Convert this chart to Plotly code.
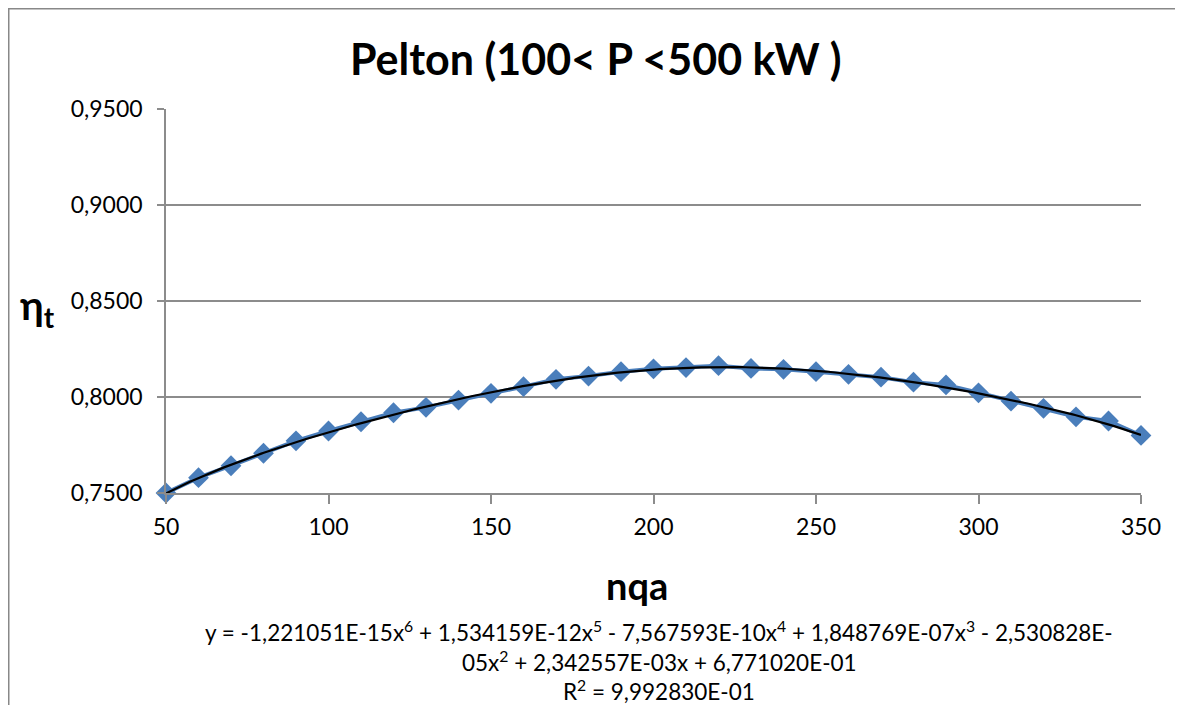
import numpy as np
import plotly.graph_objects as go

# ---- data ----
nqa = [50, 60, 70, 80, 90, 100, 110, 120, 130, 140, 150, 160, 170, 180, 190, 200,
       210, 220, 230, 240, 250, 260, 270, 280, 290, 300, 310, 320, 330, 340, 350]
eta = [0.7500, 0.7580, 0.7642, 0.7707, 0.7772, 0.7823, 0.7871, 0.7918, 0.7946, 0.7984,
       0.8019, 0.8054, 0.8092, 0.8109, 0.8132, 0.8147, 0.8153, 0.8163, 0.8149, 0.8144,
       0.8132, 0.8118, 0.8103, 0.8077, 0.8063, 0.8022, 0.7979, 0.7941, 0.7897, 0.7875,
       0.7800]
# polynomial trendline coefficients (highest power first), as printed on the chart
trend_coef = [-1.221051e-15, 1.534159e-12, -7.567593e-10, 1.848769e-07,
              -2.530828e-05, 2.342557e-03, 6.771020e-01]
x_ticks = [50, 100, 150, 200, 250, 300, 350]
y_ticks = [0.75, 0.80, 0.85, 0.90, 0.95]
title_text = "Pelton (100< P <500 kW )"
x_title = "nqa"
y_title = "η<sub>t</sub>"
eq_lines = ["y = -1,221051E-15x<sup>6</sup> + 1,534159E-12x<sup>5</sup> - 7,567593E-10x<sup>4</sup> + 1,848769E-07x<sup>3</sup> - 2,530828E-",
            "05x<sup>2</sup> + 2,342557E-03x + 6,771020E-01",
            "R<sup>2</sup> = 9,992830E-01"]

# ---- layout geometry (page pixels; the page body adds an 8px offset) ----
OFF = 8
W, H = 1183 - 2 * OFF, 713 - 2 * OFF
PL, PR, PT, PB = 166, 1141, 109, 493          # plot area in page pixels
L, T = PL - OFF, PT - OFF
PW, PH = PR - PL, PB - PT
R = W - L - PW
B = H - T - PH

def px(xp):
    return (xp - PL) / PW

def py(yp):
    return (PB - yp) / PH

FONT = "Lato"
BLUE = "#4A7EBB"
GRID = "#8C8C8C"

xs = np.linspace(min(nqa), max(nqa), 400)
ys = np.polyval(trend_coef, xs)

fig = go.Figure()
fig.add_trace(go.Scatter(
    x=nqa, y=eta, mode="lines+markers",
    line=dict(color=BLUE, width=4),
    marker=dict(symbol="diamond", size=16, color=BLUE),
    cliponaxis=False,
    showlegend=False, hoverinfo="x+y"))
fig.add_trace(go.Scatter(
    x=xs, y=ys, mode="lines",
    line=dict(color="black", width=2.2),
    showlegend=False, hoverinfo="skip"))

fig.update_layout(
    width=W, height=H,
    margin=dict(l=L, r=R, t=T, b=B, pad=0),
    paper_bgcolor="white", plot_bgcolor="white",
    separators=",.",
    font=dict(family=FONT, color="black", size=23),
    showlegend=False,
)
fig.update_xaxes(
    range=[50, 350], tickvals=x_ticks, ticktext=[str(v) for v in x_ticks],
    showgrid=False, zeroline=False,
    showline=True, linecolor=GRID, linewidth=1.5,
    ticks="outside", ticklen=9, tickcolor=GRID, tickwidth=1.5,
    tickfont=dict(family=FONT, size=23, color="black"),
    ticklabelstandoff=4,
)
fig.update_yaxes(
    range=[0.75, 0.95], tickvals=y_ticks, tickformat=".4f",
    showgrid=True, gridcolor=GRID, gridwidth=1.5, zeroline=False,
    showline=True, linecolor=GRID, linewidth=1.5,
    ticks="outside", ticklen=7, tickcolor=GRID, tickwidth=1.5,
    tickfont=dict(family=FONT, size=23, color="black"),
    ticklabelstandoff=10,
)

ann = []
ann.append(dict(text="<b>" + title_text + "</b>", x=px(596), y=py(58),
                xref="paper", yref="paper", showarrow=False,
                font=dict(family=FONT, size=43, color="black"),
                xanchor="center", yanchor="middle"))
ann.append(dict(text="<b>" + x_title + "</b>", x=px(637), y=py(585),
                xref="paper", yref="paper", showarrow=False,
                font=dict(family=FONT, size=38, color="black"),
                xanchor="center", yanchor="middle"))
ann.append(dict(text="<b>" + y_title + "</b>", x=px(37), y=py(307),
                xref="paper", yref="paper", showarrow=False,
                font=dict(family=FONT, size=40, color="black"),
                xanchor="center", yanchor="middle"))
for line, yc in zip(eq_lines, [631, 661, 690]):
    ann.append(dict(text=line, x=px(659), y=py(yc),
                    xref="paper", yref="paper", showarrow=False,
                    font=dict(family=FONT, size=22.5, color="black"),
                    xanchor="center", yanchor="middle"))
fig.update_layout(annotations=ann)

# outer chart frame (left and top edges visible)
fig.add_shape(type="line", xref="paper", yref="paper",
              x0=px(OFF + 0.5), x1=px(OFF + 0.5), y0=py(OFF), y1=py(OFF + H + 5),
              line=dict(color="#888888", width=2))
fig.add_shape(type="line", xref="paper", yref="paper",
              x0=px(OFF), x1=px(OFF + W + 5), y0=py(OFF + 0.5), y1=py(OFF + 0.5),
              line=dict(color="#888888", width=2))

fig.write_html("out.html")
